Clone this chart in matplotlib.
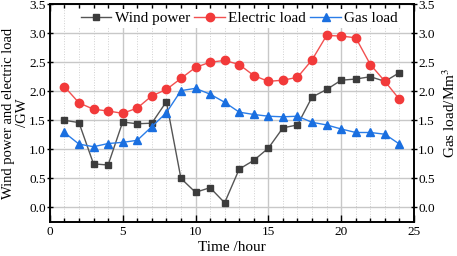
import numpy as np
import matplotlib.pyplot as plt
from matplotlib.ticker import MultipleLocator

# data
hours = list(range(1, 25))
wind_power = [1.50, 1.46, 0.75, 0.73, 1.47, 1.44, 1.45, 1.82, 0.50, 0.26, 0.34, 0.08,
              0.66, 0.81, 1.02, 1.37, 1.42, 1.90, 2.03, 2.19, 2.21, 2.25, 2.17, 2.32]
electric_load = [2.08, 1.80, 1.69, 1.66, 1.62, 1.71, 1.92, 2.03, 2.22, 2.41, 2.50, 2.53,
                 2.46, 2.27, 2.17, 2.19, 2.24, 2.54, 2.96, 2.95, 2.92, 2.46, 2.17, 1.86]
gas_load = [1.29, 1.09, 1.045, 1.10, 1.12, 1.155, 1.39, 1.63, 2.01, 2.05, 1.95, 1.81,
            1.64, 1.60, 1.57, 1.56, 1.57, 1.465, 1.42, 1.35, 1.29, 1.29, 1.26, 1.09]

plt.rcParams.update({
    'font.family': 'Liberation Serif',
    'mathtext.fontset': 'stix',
    'font.size': 11,
    'xtick.labelsize': 9.5,
    'ytick.labelsize': 9.5,
})

fig = plt.figure(figsize=(4.57, 2.56), dpi=100)
ax = fig.add_axes([0.109, 0.133, 0.797, 0.851])
ax2 = ax.twinx()

# 그리드
ax.set_axisbelow(True)
ax.grid(True, which='major', color='#c8c8c8', linewidth=1.0)
ax.grid(True, which='minor', axis='x', color='#d0d0d0', linestyle=':', linewidth=0.7)

l1, = ax.plot(hours, wind_power, color='#555555', marker='s', markersize=4.6,
              markerfacecolor='#3c3c3c', markeredgecolor='#3c3c3c', linewidth=1.0,
              label='Wind power')
l2, = ax.plot(hours, electric_load, color='#f25050', marker='o', markersize=6.0,
              markerfacecolor='#f23a3a', markeredgecolor='#f23a3a', linewidth=1.0,
              label='Electric load')
l3, = ax2.plot(hours, gas_load, color='#2a7de8', marker='^', markersize=6.3,
               markerfacecolor='#1a6fe0', markeredgecolor='#1a6fe0', linewidth=1.0,
               label='Gas load')

for a in (ax, ax2):
    a.set_ylim(-0.25, 3.5)
    a.yaxis.set_major_locator(MultipleLocator(0.5))
    a.yaxis.set_major_formatter(plt.FormatStrFormatter('%.1f'))
ax.set_xlim(0, 25)
ax.xaxis.set_major_locator(MultipleLocator(5))
ax.xaxis.set_minor_locator(MultipleLocator(1))

ax.tick_params(axis='x', which='major', direction='in', length=5, top=True, width=1.0, pad=3)
ax.tick_params(axis='x', which='minor', direction='in', length=3, top=True, width=1.0)
ax.tick_params(axis='y', which='major', direction='inout', length=5, width=1.0, pad=0.5)
ax2.tick_params(axis='y', which='major', direction='inout', length=5, width=1.0, pad=0.5)

for a in (ax, ax2):
    for s in a.spines.values():
        s.set_linewidth(1.2)
        s.set_color('black')

ax.set_xlabel('Time /hour', labelpad=2)
ax.set_ylabel('Wind power and electric load\n/GW', linespacing=1.1, fontsize=10.5)
ax.yaxis.set_label_coords(-0.058, 0.5)
ax2.set_ylabel('Gas load/Mm$^3$', fontsize=11)
ax2.yaxis.set_label_coords(1.076, 0.5)

leg = ax2.legend(handles=[l1, l2, l3], loc='upper center', ncol=3,
                 bbox_to_anchor=(0.52, 1.0), frameon=True, facecolor='white',
                 edgecolor='none', framealpha=1.0, fancybox=False,
                 columnspacing=0.3, handletextpad=0.2, borderpad=0.2,
                 borderaxespad=0.3, fontsize=11)

fig.savefig('out.png', dpi=100)
